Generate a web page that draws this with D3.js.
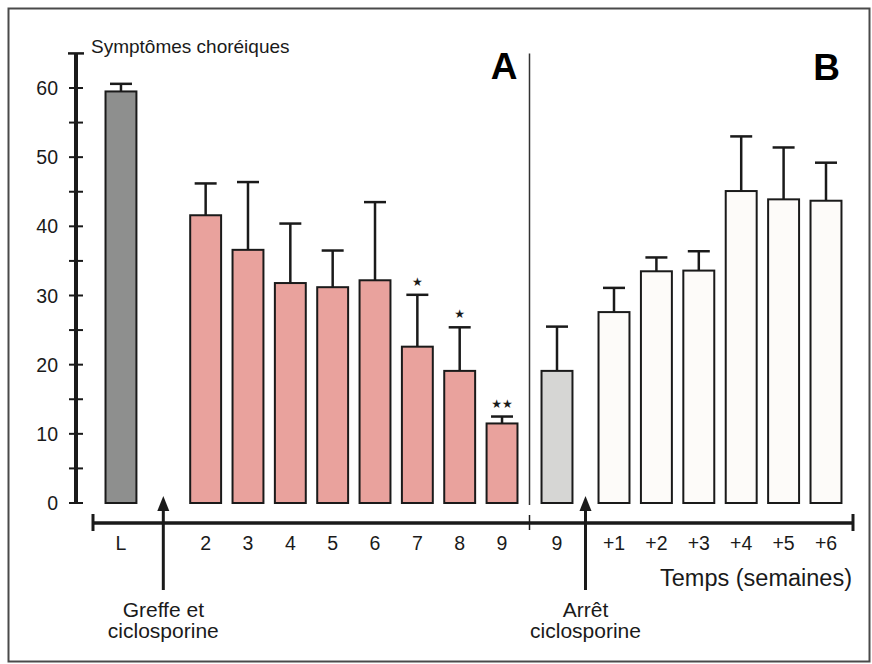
<!DOCTYPE html>
<html>
<head>
<meta charset="utf-8">
<script src="https://cdn.jsdelivr.net/npm/d3@7"></script>
<style>
  body { margin: 0; background: #fff; }
  svg { display: block; font-family: "Liberation Sans", Arial, sans-serif; }
</style>
</head>
<body>
<svg id="chart" width="872" height="664"></svg>
<script>
// data ---------------------------------------------------------------
var labelsA = ["L", "2", "3", "4", "5", "6", "7", "8", "9"];
var meansA = [59.5, 41.6, 36.6, 31.8, 31.2, 32.2, 22.6, 19.1, 11.5];
var errA = [1.1, 4.6, 9.8, 8.6, 5.3, 11.3, 7.5, 6.3, 1.0];
var signifA = ["", "", "", "", "", "", "*", "*", "**"];

var labelsB = ["9", "+1", "+2", "+3", "+4", "+5", "+6"];
var meansB = [19.1, 27.6, 33.5, 33.6, 45.1, 43.9, 43.7];
var errB = [6.4, 3.5, 2.0, 2.8, 7.9, 7.5, 5.5];

var yTicks = [0, 10, 20, 30, 40, 50, 60];

// colours
var fillL = "#8e8f8e", fillA = "#e9a29d", fillB0 = "#d6d6d4", fillB = "#fdfbf9";
var ink = "#1a1a1a";

var svg = d3.select("#chart");

// frame
svg.append("rect")
	.attr("x", 8.5).attr("y", 8.5)
	.attr("width", 861).attr("height", 653)
	.attr("fill", "none").attr("stroke", "#4a4a4a").attr("stroke-width", 2);

// scales -------------------------------------------------------------
var y = d3.scaleLinear().domain([0, 65]).range([503, 53.4]);

// panel A keeps an empty slot for the "Greffe" arrow
var xA = d3.scaleBand()
	.domain(["L", "greffe"].concat(labelsA.slice(1)))
	.range([99.8, 523.2])
	.paddingInner(0.27).paddingOuter(0.135);
var xB0 = d3.scaleBand().domain(["9"]).range([535.8, 578.2])
	.paddingInner(0.27).paddingOuter(0.135);
var xB = d3.scaleBand().domain(labelsB.slice(1)).range([592.8, 847.2])
	.paddingInner(0.27).paddingOuter(0.135);

// rows built from the arrays
var rows = [];
labelsA.forEach(function (l, i) {
	rows.push({ key: l, x: xA(l), bw: xA.bandwidth(), v: meansA[i], e: errA[i], s: signifA[i], fill: i == 0 ? fillL : fillA });
});
labelsB.forEach(function (l, i) {
	var sc = i == 0 ? xB0 : xB;
	rows.push({ key: l, x: sc(l), bw: sc.bandwidth(), v: meansB[i], e: errB[i], s: "", fill: i == 0 ? fillB0 : fillB });
});

// y axis -------------------------------------------------------------
var axisX = 76;
var yAxis = svg.append("g");
yAxis.append("line")
	.attr("x1", axisX).attr("x2", axisX)
	.attr("y1", y(65)).attr("y2", y(0) + 1)
	.attr("stroke", ink).attr("stroke-width", 4);
yAxis.append("line")
	.attr("x1", axisX - 8).attr("x2", axisX + 8)
	.attr("y1", y(65)).attr("y2", y(65))
	.attr("stroke", ink).attr("stroke-width", 2.5);
yAxis.selectAll(".minor")
	.data(d3.range(0, 65, 5))
	.enter().append("line")
	.attr("x1", axisX - 7).attr("x2", axisX + 7)
	.attr("y1", d => y(d)).attr("y2", d => y(d))
	.attr("stroke", ink).attr("stroke-width", 2);
yAxis.selectAll(".lab")
	.data(yTicks)
	.enter().append("text")
	.attr("x", 58).attr("y", d => y(d))
	.attr("dy", "0.36em")
	.attr("text-anchor", "end")
	.attr("font-size", 19.5).attr("fill", ink)
	.text(d => d);

svg.append("text")
	.attr("x", 91).attr("y", 53)
	.attr("font-size", 19).attr("fill", ink)
	.text("Symptômes choréiques");

// x axis -------------------------------------------------------------
var baseY = 523;
var xLeft = 93, xRight = 853;
var divX = (xA.range()[1] + xB0.range()[0]) / 2;
svg.append("line")
	.attr("x1", xLeft).attr("x2", xRight)
	.attr("y1", baseY).attr("y2", baseY)
	.attr("stroke", ink).attr("stroke-width", 3.5);
[xLeft, xRight].forEach(function (xx) {
	svg.append("line")
		.attr("x1", xx).attr("x2", xx)
		.attr("y1", baseY - 9).attr("y2", baseY + 8)
		.attr("stroke", ink).attr("stroke-width", 3);
});
svg.append("line")
	.attr("x1", divX).attr("x2", divX)
	.attr("y1", baseY - 8).attr("y2", baseY + 7)
	.attr("stroke", ink).attr("stroke-width", 1.5);

// divider between A and B
svg.append("line")
	.attr("x1", divX).attr("x2", divX)
	.attr("y1", y(65)).attr("y2", y(0) + 2)
	.attr("stroke", "#333").attr("stroke-width", 1.5);

svg.selectAll(".xlab")
	.data(rows)
	.enter().append("text")
	.attr("x", d => d.x + d.bw / 2)
	.attr("y", 550)
	.attr("text-anchor", "middle")
	.attr("font-size", 19.5).attr("fill", ink)
	.text(d => d.key);

svg.append("text")
	.attr("x", 852).attr("y", 586)
	.attr("text-anchor", "end")
	.attr("font-size", 23.5).attr("fill", ink)
	.text("Temps (semaines)");

// bars ---------------------------------------------------------------
var bars = svg.append("g");
bars.selectAll("rect")
	.data(rows)
	.enter().append("rect")
	.attr("x", d => d.x)
	.attr("y", d => y(d.v))
	.attr("width", d => d.bw)
	.attr("height", d => y(0) - y(d.v))
	.attr("fill", d => d.fill)
	.attr("stroke", ink).attr("stroke-width", 2);

// error bars (upper half only)
var eb = svg.append("g").attr("stroke", ink);
eb.selectAll(".stem")
	.data(rows)
	.enter().append("line")
	.attr("x1", d => d.x + d.bw / 2).attr("x2", d => d.x + d.bw / 2)
	.attr("y1", d => y(d.v)).attr("y2", d => y(d.v + d.e))
	.attr("stroke-width", 2.5);
eb.selectAll(".cap")
	.data(rows)
	.enter().append("line")
	.attr("x1", d => d.x + d.bw / 2 - 11).attr("x2", d => d.x + d.bw / 2 + 11)
	.attr("y1", d => y(d.v + d.e)).attr("y2", d => y(d.v + d.e))
	.attr("stroke-width", 2.5);

// significance stars
svg.selectAll(".star")
	.data(rows.filter(d => d.s))
	.enter().append("text")
	.attr("x", d => d.x + d.bw / 2)
	.attr("y", d => y(d.v + d.e) - 9)
	.attr("text-anchor", "middle")
	.attr("font-size", 12).attr("fill", ink)
	.attr("font-family", "DejaVu Sans")
	.text(d => d.s.replace(/\*/g, "★"));

// panel letters
svg.append("text")
	.attr("x", divX - 12).attr("y", 79)
	.attr("text-anchor", "end")
	.attr("font-size", 37).attr("font-weight", "bold").attr("fill", "#000")
	.text("A");
svg.append("text")
	.attr("x", 840).attr("y", 80)
	.attr("text-anchor", "end")
	.attr("font-size", 37).attr("font-weight", "bold").attr("fill", "#000")
	.text("B");

// arrows -------------------------------------------------------------
var arrows = [
	{ x: xA("greffe") + xA.bandwidth() / 2, lines: ["Greffe et", "ciclosporine"] },
	{ x: (xB0.range()[1] + xB.range()[0]) / 2, lines: ["Arrêt", "ciclosporine"] }
];
arrows.forEach(function (a) {
	svg.append("line")
		.attr("x1", a.x).attr("x2", a.x)
		.attr("y1", 590).attr("y2", 506)
		.attr("stroke", ink).attr("stroke-width", 3);
	svg.append("path")
		.attr("d", `M${a.x},496 L${a.x - 6},511 L${a.x + 6},511 Z`)
		.attr("fill", ink);
	svg.append("text")
		.attr("x", a.x).attr("y", 617)
		.attr("text-anchor", "middle")
		.attr("font-size", 21).attr("fill", ink)
		.selectAll("tspan")
		.data(a.lines)
		.enter().append("tspan")
		.attr("x", a.x)
		.attr("dy", (d, i) => i == 0 ? 0 : 21)
		.text(d => d);
});
</script>
</body>
</html>
